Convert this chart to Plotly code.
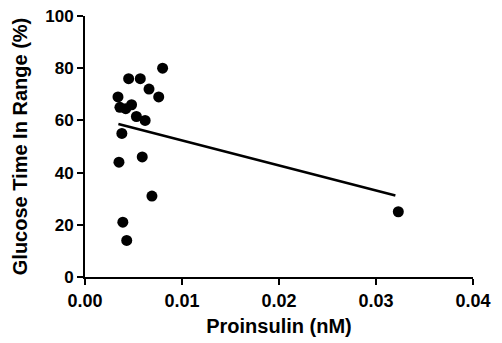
import plotly.graph_objects as go

proinsulin = [0.0080, 0.0045, 0.0057, 0.0066, 0.0034, 0.0076, 0.0036, 0.0042, 0.0048,
              0.0053, 0.0062, 0.0038, 0.0035, 0.0059, 0.0069, 0.0039, 0.0043, 0.0323]
tir = [80, 76, 76, 72, 69, 69, 65, 64.5, 66,
       61.5, 60, 55, 44, 46, 31, 21, 14, 25]

fit_x = [0.00344, 0.0320]
fit_y = [58.6, 31.2]

x_ticks = [0, 0.01, 0.02, 0.03, 0.04]
x_labels = ["0.00", "0.01", "0.02", "0.03", "0.04"]
y_ticks = [0, 20, 40, 60, 80, 100]
y_labels = ["0", "20", "40", "60", "80", "100"]

font_family = "Liberation Sans, Arial, sans-serif"

fig = go.Figure()
fig.add_trace(go.Scatter(x=fit_x, y=fit_y, mode="lines",
                         line=dict(color="black", width=2.5), showlegend=False))
fig.add_trace(go.Scatter(x=proinsulin, y=tir, mode="markers",
                         marker=dict(color="black", size=11), showlegend=False))

fig.update_layout(
    width=502, height=343,
    margin=dict(l=85, r=29, t=16, b=66),
    plot_bgcolor="white", paper_bgcolor="white",
    font=dict(family=font_family, color="black"),
    xaxis=dict(range=[0, 0.04], tickvals=x_ticks, ticktext=["<b>%s</b>" % t for t in x_labels],
               automargin=False,
               showgrid=False, zeroline=False, showline=True, linecolor="black", linewidth=2,
               ticks="outside", ticklen=6, tickwidth=2, tickcolor="black",
               tickfont=dict(size=18, family=font_family),
               title=dict(text="<b>Proinsulin (nM)</b>", font=dict(size=20), standoff=9)),
    yaxis=dict(range=[0, 100], tickvals=y_ticks, ticktext=["<b>%s</b>" % t for t in y_labels],
               automargin=False,
               showgrid=False, zeroline=False, showline=True, linecolor="black", linewidth=2,
               ticks="outside", ticklen=6, tickwidth=2, tickcolor="black",
               tickfont=dict(size=17, family=font_family),
               title=dict(text="<b>Glucose Time In Range (%)</b>", font=dict(size=20), standoff=12)),
)

fig.write_html("out.html", config={"displayModeBar": False},
               post_script="document.body.style.margin='0';")
